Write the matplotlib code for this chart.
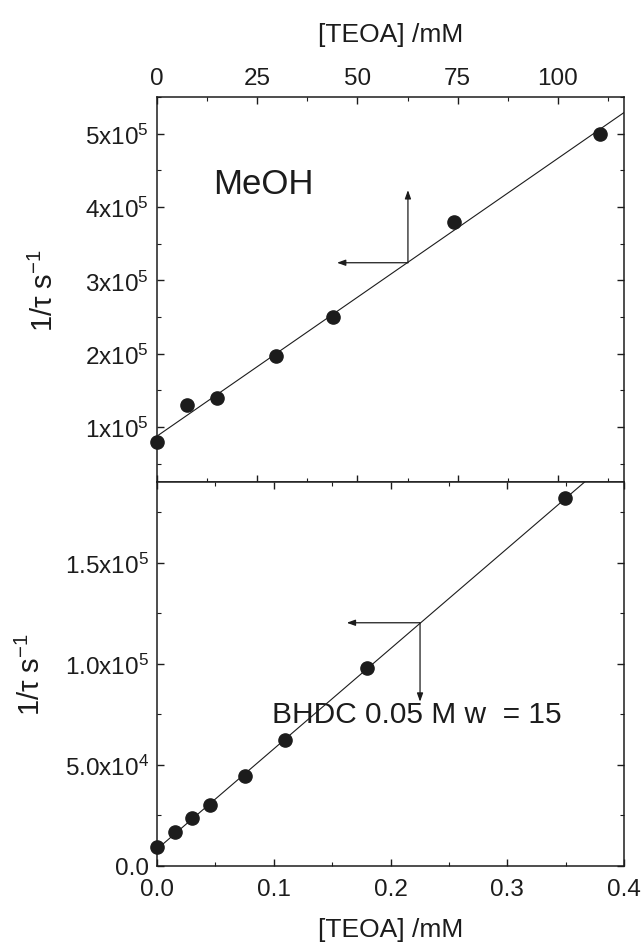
import numpy as np
import matplotlib
matplotlib.use("Agg")
import matplotlib.pyplot as plt
from matplotlib.ticker import FixedLocator, MultipleLocator

plt.rcParams['font.family'] = ['Liberation Sans', 'DejaVu Sans']
plt.rcParams['mathtext.fontset'] = 'custom'
plt.rcParams['mathtext.rm'] = 'Liberation Sans'
plt.rcParams['mathtext.it'] = 'Liberation Sans:italic'
plt.rcParams['mathtext.bf'] = 'Liberation Sans:bold'

# ---- data: top panel (MeOH), x in mM ----
meoh_teoa = [0.0, 7.6, 14.9, 29.7, 44.0, 74.0, 110.5]
meoh_rate = [7.9e4, 1.30e5, 1.40e5, 1.97e5, 2.50e5, 3.80e5, 5.00e5]

# ---- data: bottom panel (BHDC), x in mM ----
bhdc_teoa = [0.0, 0.0154, 0.0303, 0.0454, 0.0757, 0.110, 0.1797, 0.3495]
bhdc_rate = [9.1e3, 16.5e3, 23.6e3, 30.0e3, 44.2e3, 62.4e3, 97.9e3, 181.9e3]

# ---- tick values / labels ----
top_xticks = [0, 25, 50, 75, 100]
top_xticklabels = ['0', '25', '50', '75', '100']
top_yticks = [1e5, 2e5, 3e5, 4e5, 5e5]
top_yticklabels = ['1x10$^5$', '2x10$^5$', '3x10$^5$', '4x10$^5$', '5x10$^5$']
bot_xticks = [0.0, 0.1, 0.2, 0.3, 0.4]
bot_xticklabels = ['0.0', '0.1', '0.2', '0.3', '0.4']
bot_yticks = [0, 5e4, 1e5, 1.5e5]
bot_yticklabels = ['0.0', '5.0x10$^4$', '1.0x10$^5$', '1.5x10$^5$']

W, H = 643, 945
fig = plt.figure(figsize=(W / 100, H / 100), dpi=100)
left, right = 157, 624
top1, mid, bot2 = 98, 483, 866.7
ax1 = fig.add_axes([left / W, 1 - mid / H, (right - left) / W, (mid - top1) / H])
ax2 = fig.add_axes([left / W, 1 - bot2 / H, (right - left) / W, (bot2 - mid) / H])

dark = '#1c1c1c'
TICK_FS = 17.5
LABEL_FS = 19

for ax in (ax1, ax2):
    for s in ax.spines.values():
        s.set_linewidth(1.1)
        s.set_color(dark)
    ax.tick_params(which='both', direction='in', top=True, bottom=True,
                   left=True, right=True, color=dark, labelsize=TICK_FS,
                   labelcolor=dark, pad=6)
    ax.tick_params(which='major', length=5, width=1.0)
    ax.tick_params(which='minor', length=2.8, width=0.8)

# ---- top panel ----
ax1.set_xlim(0, 116.5)
ax1.set_ylim(2.5e4, 5.5e5)
ax1.xaxis.set_major_locator(FixedLocator(top_xticks))
ax1.set_xticklabels(top_xticklabels)
ax1.xaxis.set_minor_locator(MultipleLocator(12.5))
ax1.yaxis.set_major_locator(FixedLocator(top_yticks))
ax1.set_yticklabels(top_yticklabels)
ax1.yaxis.set_minor_locator(MultipleLocator(5e4))
ax1.tick_params(axis='x', labeltop=True, labelbottom=False)
ax1.xaxis.set_label_position('top')
ax1.set_xlabel('[TEOA] /mM', fontsize=LABEL_FS, color=dark)
ax1.xaxis.set_label_coords(0.5, (mid - 42) / (mid - top1))
ax1.set_ylabel('1/τ s$^{-1}$', fontsize=21, color=dark)
ax1.yaxis.set_label_coords((59 - left) / (right - left), 0.5)

p1 = np.polyfit(meoh_teoa, meoh_rate, 1)
xx1 = np.array(ax1.get_xlim())
ax1.plot(xx1, np.polyval(p1, xx1), color=dark, lw=0.8, zorder=2)
ax1.plot(meoh_teoa, meoh_rate, 'o', color=dark, ms=9.5, zorder=3, clip_on=False)
ax1.text(0.12, 0.775, 'MeOH', transform=ax1.transAxes, fontsize=25, color=dark,
         ha='left', va='center')

arrow_kw = dict(arrowstyle='-|>,head_length=0.5,head_width=0.18', color=dark, lw=0.9,
                shrinkA=0, shrinkB=0)
ax1.annotate('', xy=(62.6, 4.23e5), xytext=(62.6, 3.24e5), arrowprops=arrow_kw)
ax1.annotate('', xy=(44.9, 3.24e5), xytext=(62.6, 3.24e5), arrowprops=arrow_kw)

# ---- bottom panel ----
ax2.set_xlim(0, 0.4)
ax2.set_ylim(0, 1.9e5)
ax2.xaxis.set_major_locator(FixedLocator(bot_xticks))
ax2.set_xticklabels(bot_xticklabels)
ax2.xaxis.set_minor_locator(MultipleLocator(0.05))
ax2.yaxis.set_major_locator(FixedLocator(bot_yticks))
ax2.set_yticklabels(bot_yticklabels)
ax2.yaxis.set_minor_locator(MultipleLocator(2.5e4))
ax2.tick_params(axis='x', which='major', pad=9)
ax2.set_xlabel('[TEOA] /mM', fontsize=LABEL_FS, color=dark)
ax2.xaxis.set_label_coords(0.5, -(918 - bot2) / (bot2 - mid))
ax2.set_ylabel('1/τ s$^{-1}$', fontsize=21, color=dark)
ax2.yaxis.set_label_coords((46 - left) / (right - left), 0.5)

p2 = np.polyfit(bhdc_teoa, bhdc_rate, 1)
xx2 = np.array(ax2.get_xlim())
ax2.plot(xx2, np.polyval(p2, xx2), color=dark, lw=0.8, zorder=2)
ax2.plot(bhdc_teoa, bhdc_rate, 'o', color=dark, ms=9.5, zorder=3, clip_on=False)
ax2.text(0.247, 0.395, 'BHDC 0.05 M w  = 15', transform=ax2.transAxes, fontsize=21.5,
         color=dark, ha='left', va='center')

ax2.annotate('', xy=(0.2253, 8.12e4), xytext=(0.2253, 1.203e5), arrowprops=arrow_kw)
ax2.annotate('', xy=(0.1625, 1.203e5), xytext=(0.2253, 1.203e5), arrowprops=arrow_kw)

fig.savefig('out.png', dpi=100)
